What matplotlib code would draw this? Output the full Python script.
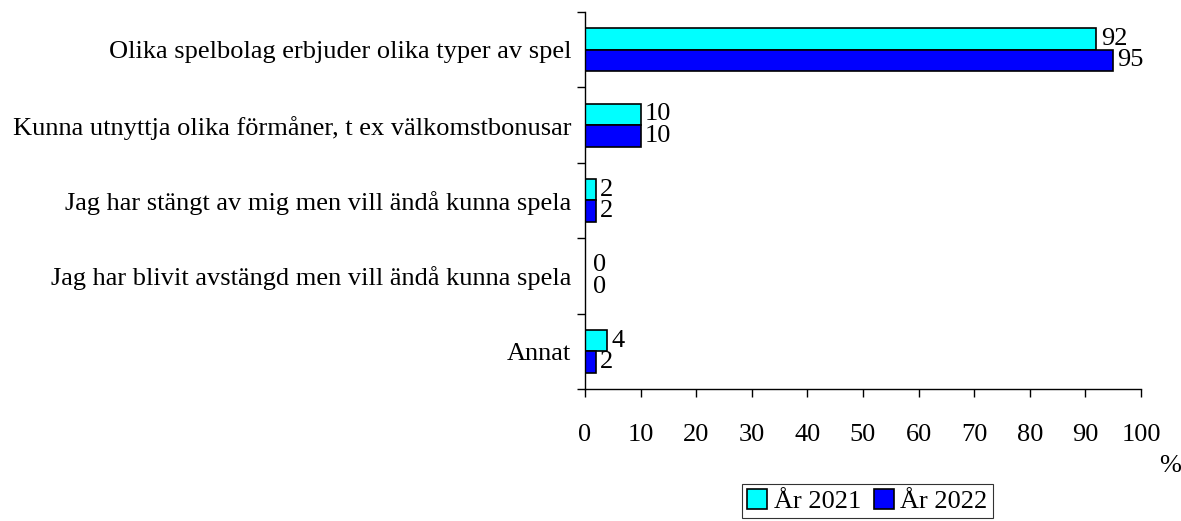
import numpy as np
import matplotlib
matplotlib.use("Agg")
import matplotlib.pyplot as plt

# Survey answers (percent)
categories = [
    'Olika spelbolag erbjuder olika typer av spel',
    'Kunna utnyttja olika förmåner, t ex välkomstbonusar',
    'Jag har stängt av mig men vill ändå kunna spela',
    'Jag har blivit avstängd men vill ändå kunna spela',
    'Annat',
]
values_2021 = [92, 10, 2, 0, 4]
values_2022 = [95, 10, 2, 0, 2]
series_labels = ['År 2021', 'År 2022']
x_ticks = list(range(0, 101, 10))

FS = 19
plt.rcParams['font.family'] = ['Liberation Serif', 'DejaVu Serif']
plt.rcParams['font.size'] = FS

fig = plt.figure(figsize=(11.81, 5.21), dpi=100)
ax = fig.add_axes([0.4953, 0.2534, 0.4708, 0.7236])

n = len(categories)
pos = np.arange(n)[::-1].astype(float)  # first category at top
h = 0.285

b1 = ax.barh(pos + h / 2, values_2021, height=h, color='#00FFFF',
             edgecolor='black', linewidth=1.2, label=series_labels[0])
b2 = ax.barh(pos - h / 2, values_2022, height=h, color='#0000FF',
             edgecolor='black', linewidth=1.2, label=series_labels[1])

for bars, vals in [(b1, values_2021), (b2, values_2022)]:
    for bar, v in zip(bars, vals):
        off = 3 if v > 0 else 6
        ax.annotate(str(v), (v, bar.get_y() + bar.get_height() / 2),
                    xytext=(off, 0), textcoords='offset points',
                    ha='left', va='center', fontsize=FS)

ax.set_xlim(0, 100)
ax.set_ylim(-0.5, n - 0.5)
ax.set_xticks(x_ticks)
ax.set_xticklabels([str(t) for t in x_ticks])

# categories labelled at centres, ticks at boundaries
ax.set_yticks(pos)
ax.set_yticklabels(categories)
ax.set_yticks(np.arange(n + 1) - 0.5, minor=True)
ax.tick_params(axis='y', which='major', length=0, pad=10)
ax.tick_params(axis='y', which='minor', length=6, width=1, direction='out')
ax.tick_params(axis='x', length=6, width=1, direction='out', pad=19)

for s in ['top', 'right']:
    ax.spines[s].set_visible(False)
for s in ['left', 'bottom']:
    ax.spines[s].set_linewidth(1)
    ax.spines[s].set_color('black')

fig.text(1170 / 1181, 1 - 466 / 521, '%', ha='center', va='center', fontsize=FS)

leg = fig.legend(loc='upper left', bbox_to_anchor=(742 / 1181, 1 - 484 / 521),
                 ncol=2, frameon=True, fancybox=False, handlelength=0.75,
                 handleheight=0.75, handletextpad=0.25, columnspacing=0.5,
                 borderpad=0.2, borderaxespad=0, fontsize=FS)
leg.get_frame().set_edgecolor('black')
leg.get_frame().set_linewidth(0.8)

fig.savefig('out.png', dpi=100)
